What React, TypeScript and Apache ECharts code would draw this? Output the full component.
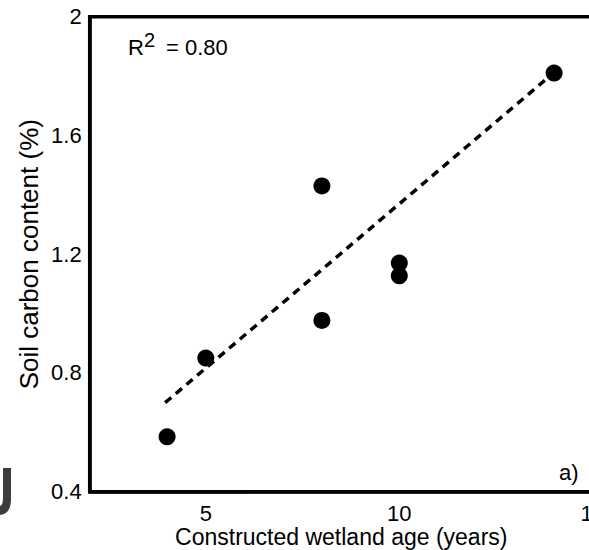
import React, { useEffect, useRef } from "react";
import * as echarts from "echarts";

const ageYears = [4, 5, 8, 8, 10, 10, 14];
const carbonPct = [0.585, 0.85, 1.43, 0.977, 1.127, 1.17, 1.81];
const trendAge = [3.95, 13.8];
const trendCarbon = [0.7, 1.79];
const yTicks = [0.4, 0.8, 1.2, 1.6, 2];
const xLabelStep = 5;

const FONT = "'Liberation Sans', Arial, Helvetica, sans-serif";

echarts.graphic.registerShape(
  "edgeMark",
  echarts.graphic.extendPath(
    "M3 468 L11 468 L11 499 Q11 514 0 515 L0 506 Q3 505 3 498 Z",
    {}
  )
);

export default function App() {
  const ref = useRef<HTMLDivElement>(null);
  useEffect(() => {
    if (!ref.current) return;
    const chart = echarts.init(ref.current, null, { renderer: "svg" });
    chart.setOption({
      animation: false,
      backgroundColor: "#fff",
      grid: {
        left: 89.7,
        right: -3.8,
        top: 16.7,
        bottom: 58.3,
        containLabel: false,
        outerBoundsMode: "none",
        show: true,
        borderColor: "#000",
        borderWidth: 3.5,
      },
      xAxis: {
        type: "value",
        min: 2,
        max: 15,
        interval: 1,
        name: "Constructed wetland age (years)",
        nameLocation: "middle",
        nameGap: 34,
        nameMoveOverlap: false,
        nameTextStyle: { fontFamily: FONT, fontSize: 23, color: "#000" },
        axisLine: { show: true, lineStyle: { color: "#000", width: 3.5 } },
        axisTick: { show: false },
        splitLine: { show: false },
        axisLabel: {
          margin: 11,
          fontFamily: FONT,
          fontSize: 22,
          color: "#000",
          showMaxLabel: true,
          formatter: (v: number) => (v % xLabelStep === 0 ? String(v) : ""),
        },
      },
      yAxis: {
        type: "value",
        min: yTicks[0],
        max: yTicks[yTicks.length - 1],
        interval: 0.4,
        name: "Soil carbon content (%)",
        nameLocation: "middle",
        nameGap: 48,
        nameMoveOverlap: false,
        nameTextStyle: { fontFamily: FONT, fontSize: 26, color: "#000" },
        axisLine: { show: true, lineStyle: { color: "#000", width: 3.5 } },
        axisTick: { show: false },
        splitLine: { show: false },
        axisLabel: {
          margin: 8,
          fontFamily: FONT,
          fontSize: 22,
          color: "#000",
          formatter: (v: number) => String(Math.round(v * 10) / 10),
        },
      },
      series: [
        {
          type: "line",
          data: trendAge.map((x, i) => [x, trendCarbon[i]]),
          symbol: "none",
          lineStyle: { color: "#000", width: 3.5, type: [8, 6], opacity: 1 },
          z: 2,
        },
        {
          type: "scatter",
          data: ageYears.map((x, i) => [x, carbonPct[i]]),
          symbol: "circle",
          symbolSize: 17,
          itemStyle: { color: "#000", opacity: 1 },
          z: 3,
        },
      ],
      graphic: [
        {
          type: "text",
          left: 128,
          top: 36,
          style: { text: "R", fontFamily: FONT, fontSize: 22, fill: "#000" },
        },
        {
          type: "text",
          left: 144,
          top: 30,
          style: { text: "2", fontFamily: FONT, fontSize: 20, fill: "#000" },
        },
        {
          type: "text",
          left: 166,
          top: 36,
          style: { text: "= 0.80", fontFamily: FONT, fontSize: 22, fill: "#000" },
        },
        {
          type: "text",
          left: 559,
          top: 461,
          style: { text: "a)", fontFamily: FONT, fontSize: 22, fill: "#000" },
        },
        {
          type: "edgeMark",
          x: 0,
          y: 0,
          style: { fill: "#3d3d3d" },
        },
      ],
    });
    return () => chart.dispose();
  }, []);
  return (
    <div
      style={{
        position: "absolute",
        left: 0,
        top: 0,
        width: 589,
        height: 550,
        overflow: "hidden",
        background: "#fff",
      }}
    >
      <div ref={ref} style={{ width: 589, height: 550 }} />
    </div>
  );
}
